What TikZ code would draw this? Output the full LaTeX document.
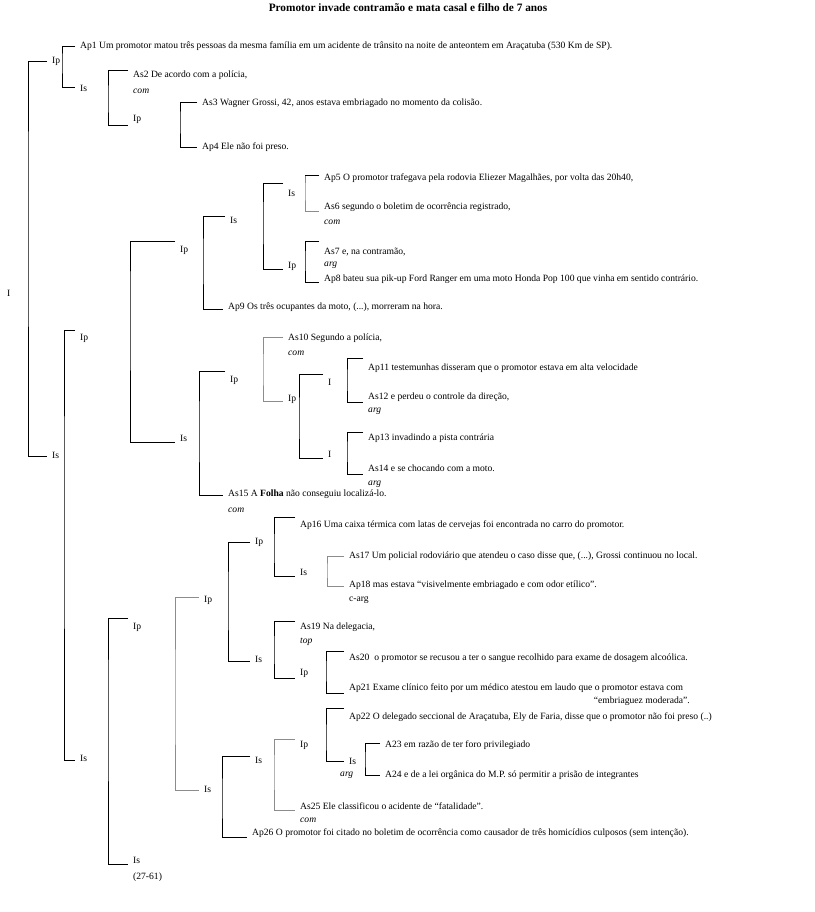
\documentclass[tikz,border=0pt]{standalone}
\usepackage{fontspec}
\setmainfont{Liberation Serif}
\tikzset{
  txt/.style={anchor=west,inner sep=0pt,font=\fontsize{9.6}{11}\selectfont},
  ttl/.style={anchor=center,inner sep=0pt,font=\fontsize{11.3}{13}\selectfont\bfseries},
  rel/.style={txt,font=\fontsize{9.6}{11}\selectfont\itshape},
  br/.style={draw=black,line width=0.9pt},
  gbr/.style={draw=black!45,line width=0.9pt}
}
% #1 style, #2 top node, #3 yshift top, #4 bar coordinate, #5 bottom node, #6 yshift bottom
\newcommand\brk[6][br]{\draw[#1] ([xshift=-5pt,yshift=#3]#2.west) -| (#4) |- ([xshift=-5pt,yshift=#6]#5.west);}
\begin{document}
\begin{tikzpicture}[x=1pt,y=-1pt]
\fill[white] (0,0) rectangle (814,912);
\useasboundingbox (0,0) rectangle (814,912);
\node[ttl] (title) at (408,8) {Promotor invade contramão e mata casal e filho de 7 anos};

% top level
\node[txt] (i0) at (7,293) {I};
\node[txt] (ip1) at (52,61) {Ip};
\node[txt] (is1) at (52,455) {Is};
\coordinate (x1) at (28,200);
\brk{ip1}{0pt}{x1}{is1}{-1pt}

% block A
\node[txt] (ap1) at (80,46) {Ap1 Um promotor matou três pessoas da mesma família em um acidente de trânsito na noite de anteontem em Araçatuba (530 Km de SP).};
\node[txt] (is2) at (80,88) {Is};
\coordinate (x2) at (62,60);
\brk{ap1}{0pt}{x2}{is2}{1pt}
\node[txt] (as2) at (133,75) {As2 De acordo com a polícia,};
\node[rel] (com2) at (133,91) {com};
\node[txt] (ip3) at (133,119) {Ip};
\coordinate (x3) at (108,100);
\brk{as2}{5pt}{x3}{ip3}{-6pt}
\node[txt] (as3) at (202,103) {As3 Wagner Grossi, 42, anos estava embriagado no momento da colisão.};
\node[txt] (ap4) at (202,147) {Ap4 Ele não foi preso.};
\coordinate (x4) at (180,120);
\brk{as3}{1pt}{x4}{ap4}{0pt}

% block B
\node[txt] (ip4) at (80,338) {Ip};
\node[txt] (is4) at (80,758) {Is};
\coordinate (x5) at (64,500);
\brk{ip4}{8pt}{x5}{is4}{-2pt}
\node[txt] (ip5) at (180,250) {Ip};
\node[txt] (is5) at (180,438) {Is};
\coordinate (x6) at (130,300);
\brk{ip5}{9pt}{x6}{is5}{-4pt}
\node[txt] (is6) at (230,220) {Is};
\node[txt] (ap9) at (228,307) {Ap9 Os três ocupantes da moto, (...), morreram na hora.};
\coordinate (x7) at (203,260);
\brk{is6}{4pt}{x7}{ap9}{-2pt}
\node[txt] (is7) at (288,193) {Is};
\node[txt] (ip7) at (288,266) {Ip};
\coordinate (x8) at (263,220);
\brk{is7}{10pt}{x8}{ip7}{-3pt}
\node[txt] (ap5) at (324,178) {Ap5 O promotor trafegava pela rodovia Eliezer Magalhães, por volta das 20h40,};
\node[txt] (as6) at (324,207) {As6 segundo o boletim de ocorrência registrado,};
\node[rel] (com6) at (324,222) {com};
\coordinate (x9) at (305,190);
\brk[gbr]{ap5}{3pt}{x9}{as6}{-4pt}
\draw[br] ([xshift=-5pt,yshift=3pt]ap5.west) -- ([yshift=3pt]ap5.west -| x9);
\node[txt] (as7) at (324,252) {As7 e, na contramão,};
\node[rel] (arg7) at (324,265) {arg};
\node[txt] (ap8) at (324,279) {Ap8 bateu sua pik-up Ford Ranger em uma moto Honda Pop 100 que vinha em sentido contrário.};
\coordinate (x10) at (305,260);
\brk{as7}{11pt}{x10}{ap8}{-3pt}

\node[txt] (ip8) at (230,380) {Ip};
\node[txt] (as15) at (228,494) {As15 A \textbf{Folha} não conseguiu localizá-lo.};
\node[rel] (com15) at (228,510) {com};
\coordinate (x11) at (199,430);
\brk{ip8}{9pt}{x11}{as15}{-1pt}
\node[txt] (as10) at (288,338) {As10 Segundo a polícia,};
\node[rel] (com10) at (288,353) {com};
\node[txt] (ip9) at (288,399) {Ip};
\coordinate (x12) at (263,370);
\brk[gbr]{as10}{1pt}{x12}{ip9}{-2pt}
\node[txt] (ia) at (328,382) {I};
\node[txt] (ib) at (328,454) {I};
\coordinate (x13) at (299,420);
\brk{ia}{8pt}{x13}{ib}{-4pt}
\node[txt] (ap11) at (368,368) {Ap11 testemunhas disseram que o promotor estava em alta velocidade};
\node[txt] (as12) at (368,397) {As12 e perdeu o controle da direção,};
\node[rel] (arg12) at (368,411) {arg};
\coordinate (x14) at (347,380);
\brk{ap11}{10pt}{x14}{as12}{-5pt}
\node[txt] (ap13) at (368,438) {Ap13 invadindo a pista contrária};
\node[txt] (as14) at (368,468) {As14 e se chocando com a moto.};
\node[rel] (arg14) at (368,484) {arg};
\coordinate (x15) at (347,450);
\brk{ap13}{6pt}{x15}{as14}{-6pt}

% block C
\node[txt] (ip10) at (133,627) {Ip};
\node[txt] (is10) at (133,860) {Is};
\node[txt] (r10) at (133,877) {(27-61)};
\coordinate (x16) at (108,700);
\brk{ip10}{9pt}{x16}{is10}{-4pt}
\node[txt] (ip11) at (204,600) {Ip};
\node[txt] (is11) at (204,789) {Is};
\coordinate (x17) at (175,700);
\brk[gbr]{ip11}{3pt}{x17}{is11}{-1pt}
\node[txt] (ip12) at (255,542) {Ip};
\node[txt] (is12) at (255,659) {Is};
\coordinate (x18) at (228,600);
\brk{ip12}{0pt}{x18}{is12}{-2pt}
\node[txt] (ap16) at (300,525) {Ap16 Uma caixa térmica com latas de cervejas foi encontrada no carro do promotor.};
\node[txt] (is13) at (300,572) {Is};
\coordinate (x19) at (274,550);
\brk{ap16}{8pt}{x19}{is13}{-4pt}
\node[txt] (as17) at (349,556) {As17 Um policial rodoviário que atendeu o caso disse que, (...), Grossi continuou no local.};
\node[txt] (ap18) at (349,585) {Ap18 mas estava “visivelmente embriagado e com odor etílico”.};
\node[txt] (carg) at (349,600) {c-arg};
\coordinate (x20) at (327,570);
\brk[gbr]{as17}{0pt}{x20}{ap18}{-1pt}
\node[txt] (as19) at (300,627) {As19 Na delegacia,};
\node[rel] (top19) at (300,642) {top};
\node[txt] (ip13) at (300,673) {Ip};
\coordinate (x21) at (274,650);
\brk{as19}{6pt}{x21}{ip13}{-5pt}
\node[txt] (as20) at (349,658) {As20\ \ o promotor se recusou a ter o sangue recolhido para exame de dosagem alcoólica.};
\node[txt] (ap21) at (349,688) {Ap21 Exame clínico feito por um médico atestou em laudo que o promotor estava com};
\node[txt,anchor=east] (emb) at (690,701) {“embriaguez moderada”.};
\coordinate (x22) at (326,670);
\brk{as20}{7pt}{x22}{ap21}{-5pt}

\node[txt] (is14) at (255,760) {Is};
\node[txt] (ap26) at (252,833) {Ap26 O promotor foi citado no boletim de ocorrência como causador de três homicídios culposos (sem intenção).};
\coordinate (x23) at (222,800);
\brk{is14}{4pt}{x23}{ap26}{-4pt}
\node[txt] (ip15) at (300,745) {Ip};
\node[txt] (as25) at (300,806) {As25 Ele classificou o acidente de “fatalidade”.};
\node[rel] (com25) at (300,820) {com};
\coordinate (x24) at (274,770);
\brk[gbr]{ip15}{6pt}{x24}{as25}{-4pt}
\node[txt] (ap22) at (349,717) {Ap22 O delegado seccional de Araçatuba, Ely de Faria, disse que o promotor não foi preso (..)};
\node[txt] (is15) at (349,761) {Is};
\node[rel] (arg15) at (340,775) {arg};
\coordinate (x25) at (326,740);
\brk{ap22}{9pt}{x25}{is15}{0pt}
\node[txt] (a23) at (385,745) {A23 em razão de ter foro privilegiado};
\node[txt] (a24) at (385,775) {A24 e de a lei orgânica do M.P. só permitir a prisão de integrantes};
\coordinate (x26) at (365,760);
\brk{a23}{2pt}{x26}{a24}{0pt}
\end{tikzpicture}
\end{document}
